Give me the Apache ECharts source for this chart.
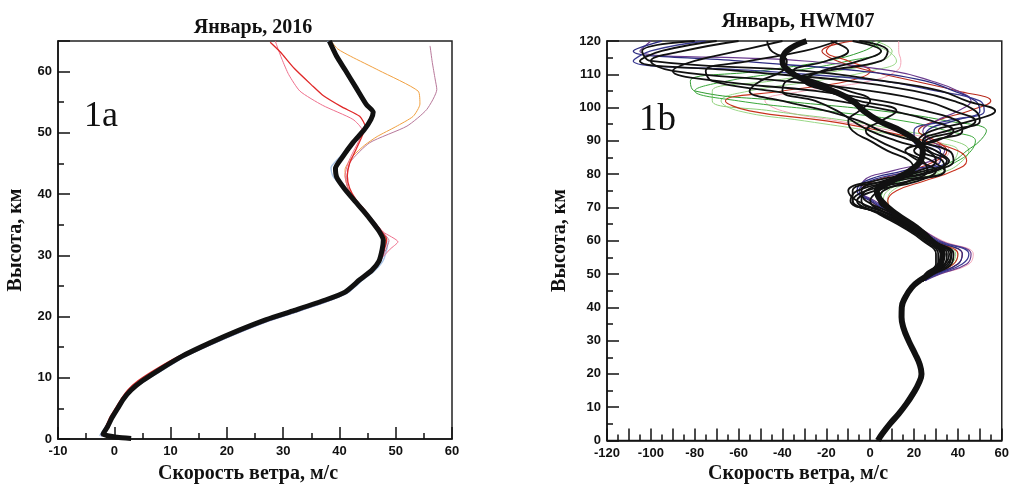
<!DOCTYPE html>
<html>
<head>
<meta charset="utf-8">
<script src="https://cdn.jsdelivr.net/npm/echarts@6/dist/echarts.min.js"></script>
<style>html,body{margin:0;padding:0;background:#fff}#c{width:1012px;height:485px}</style>
</head>
<body>
<div id="c"></div>
<script>
// ---------- Panel 1a: January 2016 (speed m/s, height km) ----------
const black1a = [[3,0.1],[0.5,0.3],[-2,0.8],[-1.2,2],[-0.4,3.5],[0.6,5],[1.6,6.5],[3,8],[5,9.5],[8,11.3],[12,13.5],[17,15.7],[22,17.7],[27,19.5],[32,21],[37.5,22.7],[41,24],[43.6,26],[45.7,27.5],[47,29],[47.6,31],[47.8,32.5],[47,34],[45.8,35.5],[44.3,37.2],[42.6,39],[40.8,41],[39.5,42.8],[39.3,44.2],[40.5,46],[42.4,48.4],[44.4,50.5],[45.6,52.2],[46,53.4],[44.8,54.6],[43,57.3],[41,60.3],[39.5,62.5],[38.2,65]];
const red1a = [[-2.2,0.6],[-1.5,2],[-0.8,3.5],[0.2,5],[1.2,6.5],[2.4,8],[4.2,9.5],[7.2,11.3],[11,13.3],[16,15.4],[21.5,17.5],[27,19.3],[32,20.9],[37.5,22.5],[41.2,24],[43.8,26],[46,27.7],[47.3,29.4],[48,31],[48.4,32.6],[47.4,34],[46,35.6],[44.6,37.3],[43,39],[41.8,41],[41.4,43],[41.8,45],[42.8,47],[43.8,49],[44.6,51],[43.6,52.7],[40.5,54.2],[37.1,56.1],[35.3,57.6],[32,60.5],[29.5,63.2],[27.7,64.8]];
const pink1a = [[-2,0.7],[-1.2,2],[-0.5,3.5],[0.5,5],[1.5,6.5],[2.8,8],[4.8,9.6],[7.8,11.4],[11.8,13.5],[16.8,15.6],[22,17.6],[27.2,19.4],[32.5,21],[37.8,22.7],[41.5,24.2],[44,26.2],[46,27.8],[47.5,29.5],[49,31],[50.4,32.2],[47.8,33.8],[46.2,35.5],[44.7,37.2],[43,39],[41.5,41],[41,43],[41.5,45],[42.5,47],[43.6,49],[44,50.5],[42.4,52.2],[37,54.5],[33,56.8],[31,59.5],[29.8,62],[28.9,64.2],[28.6,65]];
const orange1a = [[-1.8,0.7],[-1,2],[-0.3,3.5],[0.7,5],[1.8,6.5],[3.1,8],[5.2,9.6],[8.3,11.4],[12.3,13.6],[17.2,15.8],[22.2,17.8],[27.3,19.6],[32.3,21.1],[37.7,22.8],[41.2,24.2],[43.7,26.1],[45.8,27.6],[47.2,29.2],[47.9,31],[48.2,32.6],[47.2,34],[45.9,35.6],[44.4,37.3],[42.8,39.1],[41.5,41],[41,43],[41,44],[42.4,46.2],[44.5,48],[46.7,49.4],[50,51],[53.1,52.7],[54.3,54.7],[54,56.8],[47,60.2],[42,62.5],[39.7,63.7],[38.5,65]];
const mauve1a = [[-2.4,0.6],[-1.6,2],[-0.7,3.5],[0.4,5],[1.4,6.5],[2.7,8],[4.6,9.5],[7.6,11.3],[11.6,13.5],[16.6,15.6],[21.8,17.6],[27,19.4],[32.2,21],[37.6,22.7],[41.3,24.1],[43.9,26.1],[46,27.7],[47.4,29.3],[48.3,31],[48.8,32.4],[47.5,34],[46,35.6],[44.5,37.3],[42.8,39],[41.5,41],[41.3,42.4],[41.9,45.2],[45.4,48.4],[52,51.1],[55.5,53.8],[57.3,57.1],[57,58.8],[56.5,61.5],[56.1,64.2]];
const lightblue1a = [[-2.6,0.5],[-1.6,2],[-0.6,3.5],[0.8,5],[1.9,6.5],[3.3,8],[5.4,9.5],[8.5,11.2],[12.5,13.4],[17.5,15.6],[22.5,17.6],[27.5,19.4],[32.5,20.9],[38,22.6],[41.6,24],[44.2,26],[46.3,27.5],[47.8,29.2],[48.5,31.5],[48.2,32.8],[47.2,34.2],[46,35.6],[44.4,37.3],[42.5,39.2],[40.4,41.2],[38.8,43],[38.5,44.3],[40,46],[42.2,48.4],[44.2,50.5],[45.4,52.2],[45.8,53.4],[44.5,54.8],[42.6,57.5],[40.6,60.5],[39,63],[37.9,65]];
const slate1a = [[-2.3,0.4],[-1.4,2],[-0.5,3.5],[0.7,5],[1.8,6.5],[3.2,8],[5.3,9.4],[8.4,11.2],[12.4,13.4],[17.4,15.5],[22.5,17.5],[27.5,19.3],[32.6,20.8],[38,22.5],[41.5,23.9],[44,25.9],[46,27.4],[47.3,29],[48,31],[48,32.6],[47.2,34],[46,35.4],[44.5,37.1],[42.8,38.9],[41,40.9],[39.6,42.7],[39,44],[40.2,45.8],[42.2,48.2],[44.2,50.3],[45.4,52],[45.8,53.3],[44.6,54.5],[42.8,57.2],[40.8,60.2],[39.3,62.6],[38,65]];

// ---------- Panel 1b: January, HWM07 ----------
const H = [48,50,53,56,60,64,68,72,75,78,81,84,87,90,93,96,99,102,105,108,111,114,117,120];
const blackA = [24,28,36,37,28,19,8,-6,-10,2,25,36,30,22,28,46,57,44,32,6,-30,-100,-104,-80];
const blackB = [24,28,34,35,27,18,6,-8,-8,8,30,35,27,24,35,50,48,38,20,-10,-60,-105,-95,-70];
const blueC  = [25,30,40,42,30,20,10,0,-6,-2,15,32,32,25,26,38,50,48,38,25,-5,-60,-108,-95];
const purpleD= [25,32,44,46,32,22,12,2,-4,-3,10,28,34,28,24,30,40,46,40,28,10,-30,-105,-100];
const blackE = [24,27,33,33,26,17,6,-9,-6,12,34,33,24,25,40,48,38,25,0,-40,-90,-100,-85,-60];
const blackF = [24,26,31,31,25,16,5,-8,-2,18,34,28,20,28,42,40,25,5,-25,-70,-90,-80,-60,-40];
const blackG = [24,25,30,30,24,15,4,-6,2,22,30,22,16,30,38,28,10,-15,-45,-72,-75,-55,-30,-15];
const blackO = [24,27,32,34,27,18,8,0,4,12,20,18,8,0,-8,-10,-5,0,-10,-25,-35,-20,-10,-18];
const blackP = [24,28,35,37,28,20,12,4,6,18,26,24,14,4,-2,5,12,-5,-20,-30,-22,-5,5,-8];
const blackQ = [24,29,37,38,29,21,11,-2,-4,6,22,30,26,12,0,-8,-15,-25,-40,-38,-20,5,8,-5];
const blackR = [24,27,34,36,28,19,9,-4,-2,10,28,38,36,20,5,-5,-20,-40,-55,-50,-40,-38,-45,-47];
const greenI = [24,29,37,38,28,20,10,4,4,10,25,38,44,50,53,35,5,-40,-80,-82,-50,-20,-3,5];
const greenJ = [24,28,36,37,28,20,10,5,6,14,30,40,46,48,35,15,-20,-60,-80,-65,-35,-10,5,0];
const lgreenK= [24,29,37,39,29,21,11,6,8,18,35,42,45,38,15,-10,-45,-72,-72,-45,-15,5,10,2];
const lgreenL= [24,30,38,40,30,22,12,8,10,20,32,38,40,25,0,-30,-60,-68,-55,-25,0,12,8,-5];
const redM   = [24,29,38,40,29,21,12,8,12,25,38,44,40,25,5,-20,-55,-66,-40,-10,0,-10,-20,-15];
const redH   = [24,30,40,42,30,20,10,0,-4,2,18,30,35,30,22,30,45,55,40,20,0,-15,-22,-8];
const pinkN  = [24,32,45,47,33,22,12,5,2,8,20,32,36,30,10,-15,-40,-48,-30,0,12,14,13,13];
const blueS  = [24,31,42,45,31,21,11,1,-5,0,20,35,30,20,20,35,52,50,30,5,-50,-108,-100,-75];
const meanH = [0,2,5,8,11,14,17,20,23,26,30,34,37,40,43,46,48,50,53,56,60,64,68,72,75,78,81,84,87,90,93,96,99,102,105,108,111,114,117,120];
const meanX = [3.5,5.5,9,13,16.5,19.5,22,23.4,22.5,20.5,17.5,15.1,14.3,14.4,16,19,22.5,27,32,33,28,21,12,5,3,10,18,23,24,21,14,4,-3,-8,-17,-29,-37,-40,-38,-29];

const xTicks1a = {min:-10, max:60, interval:10};
const yTicks1a = {min:0, max:65, interval:10};
const xTicks1b = {min:-120, max:60, interval:10};
const yTicks1b = {min:0, max:120, interval:10};

const SERIF = "'Liberation Serif','Times New Roman',serif";
const SANS = "'Liberation Sans',Arial,sans-serif";

function pairs(xs, hs){ return xs.map((v,i)=>[v, hs[i]]); }

const labelStyle = {color:'#111', fontFamily:SANS, fontWeight:'bold', fontSize:13, margin:6};

function axisCommon(extra){
  return Object.assign({
    type:'value',
    axisLine:{show:true, onZero:false, lineStyle:{color:'#111', width:1.5}},
    axisTick:{show:true, inside:true, length:12, lineStyle:{color:'#111', width:1.5}},
    minorTick:{show:true, splitNumber:2, length:6, lineStyle:{color:'#111', width:1.5}},
    splitLine:{show:false},
    axisLabel:Object.assign({}, labelStyle)
  }, extra);
}

const chart = echarts.init(document.getElementById('c'), null, {renderer:'canvas'});

const left = [
  {d:slate1a, c:'#7a86c0', w:1.2},
  {d:lightblue1a, c:'#a8c4e8', w:1.4},
  {d:mauve1a, c:'#b8789a', w:1},
  {d:orange1a, c:'#f0a040', w:1},
  {d:pink1a, c:'#ee6f8c', w:1},
  {d:red1a, c:'#e02828', w:1.3},
  {d:black1a, c:'#111', w:5}
];
const right = [
  {d:pinkN, c:'#f4a6b8', w:1},
  {d:lgreenL, c:'#9ad888', w:1},
  {d:lgreenK, c:'#8fd07a', w:1},
  {d:greenJ, c:'#3aa83a', w:1},
  {d:greenI, c:'#2f9a2f', w:1},
  {d:redM, c:'#c8321e', w:1.1},
  {d:redH, c:'#b82a1c', w:1.1},
  {d:purpleD, c:'#6b3c8e', w:1.2},
  {d:blueC, c:'#2c2c82', w:1.3},
  {d:blueS, c:'#3a3a90', w:1.3},
  {d:blackO, c:'#111', w:1.8},
  {d:blackP, c:'#111', w:1.8},
  {d:blackQ, c:'#111', w:1.8},
  {d:blackR, c:'#111', w:1.8},
  {d:blackG, c:'#111', w:1.8},
  {d:blackF, c:'#111', w:1.8},
  {d:blackE, c:'#111', w:1.8},
  {d:blackB, c:'#111', w:1.8},
  {d:blackA, c:'#111', w:1.8}
];

const series = [];
left.forEach(s=>series.push({type:'line', xAxisIndex:0, yAxisIndex:0, data:s.d, showSymbol:false, smooth:0.2,
  lineStyle:{color:s.c, width:s.w}}));
right.forEach(s=>series.push({type:'line', xAxisIndex:1, yAxisIndex:1, data:pairs(s.d, H), showSymbol:false, smooth:0.45,
  lineStyle:{color:s.c, width:s.w}}));
series.push({type:'line', xAxisIndex:1, yAxisIndex:1, data:pairs(meanX, meanH), showSymbol:false, smooth:0.45,
  lineStyle:{color:'#111', width:6}});

const txt = (x,y,text,font,extra) => Object.assign({type:'text', x:x, y:y, silent:true,
  style:{text:text, font:font, fill:'#111', align:'center', verticalAlign:'middle'}}, extra||{});

chart.setOption({
  animation:false,
  backgroundColor:'#fff',
  grid:[
    {left:58, right:560, top:41, bottom:46, show:true, borderColor:'#222', borderWidth:1.5},
    {left:607, right:10, top:41, bottom:44.5, show:true, borderColor:'#222', borderWidth:1.5}
  ],
  xAxis:[
    axisCommon(Object.assign({gridIndex:0, position:'bottom'}, xTicks1a)),
    axisCommon(Object.assign({gridIndex:1, position:'bottom'}, xTicks1b, {
      axisLabel:Object.assign({}, labelStyle, {formatter:v=> (v % 20 === 0 ? String(v) : '')})}))
  ],
  yAxis:[
    axisCommon(Object.assign({gridIndex:0, position:'left'}, yTicks1a, {
      axisLabel:Object.assign({}, labelStyle, {showMaxLabel:false})})),
    axisCommon(Object.assign({gridIndex:1, position:'left'}, yTicks1b))
  ],
  graphic:[
    txt(253, 27.5, 'Январь, 2016', 'bold 20px '+SERIF),
    txt(798, 21.7, 'Январь, HWM07', 'bold 20px '+SERIF),
    txt(248, 473.5, 'Скорость ветра, м/с', 'bold 20px '+SERIF),
    txt(798, 474, 'Скорость ветра, м/с', 'bold 20px '+SERIF),
    txt(15.5, 240, 'Высота, км', 'bold 20px '+SERIF, {rotation:Math.PI/2}),
    txt(560, 240.5, 'Высота, км', 'bold 20px '+SERIF, {rotation:Math.PI/2}),
    {type:'text', x:84, y:116.5, silent:true, style:{text:'1a', font:'36px '+SERIF, fill:'#111', align:'left', verticalAlign:'middle'}},
    {type:'text', x:639, y:120, silent:true, style:{text:'1b', font:'37px '+SERIF, fill:'#111', align:'left', verticalAlign:'middle'}}
  ],
  series:series
});
</script>
</body>
</html>
